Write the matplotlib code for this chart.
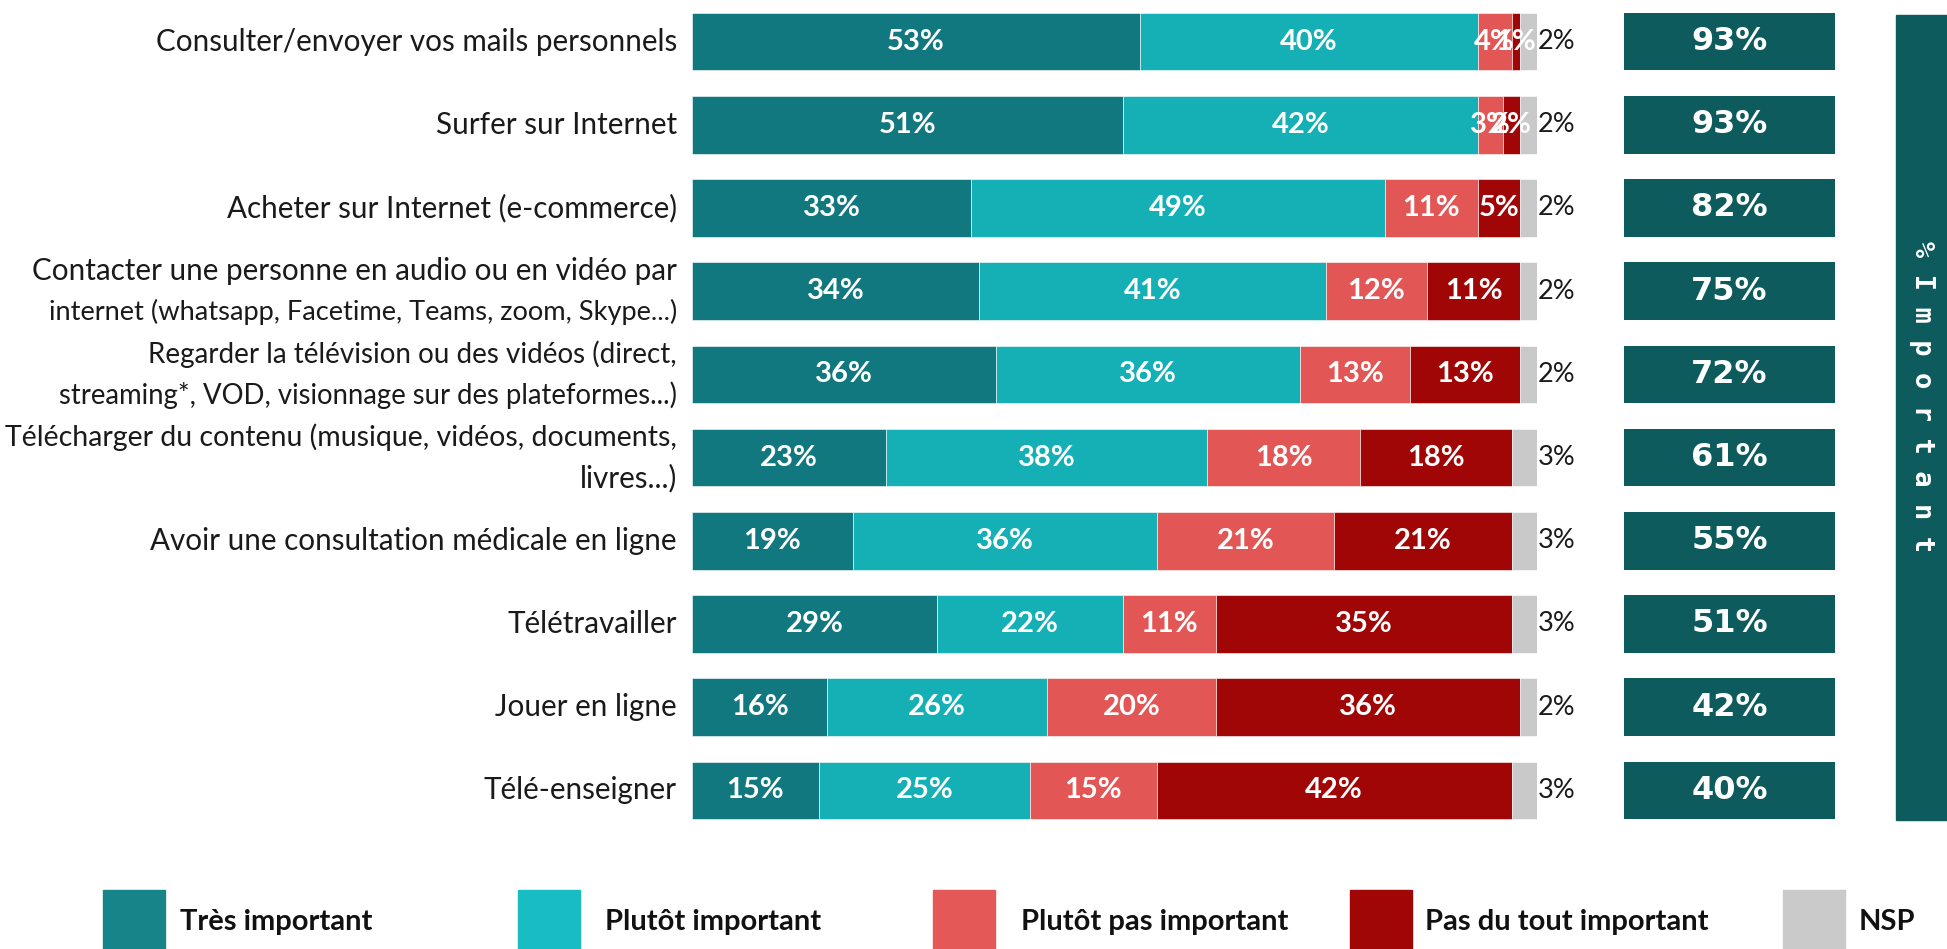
import numpy as np
import matplotlib
matplotlib.use("Agg")
import matplotlib.pyplot as plt
from matplotlib.patches import Rectangle

# ---- data ----
categories = [
    "Consulter/envoyer vos mails personnels",
    "Surfer sur Internet",
    "Acheter sur Internet (e-commerce)",
    "Contacter une personne en audio ou en vidéo par\ninternet (whatsapp, Facetime, Teams, zoom, Skype...)",
    "Regarder la télévision ou des vidéos (direct,\nstreaming*, VOD, visionnage sur des plateformes...)",
    "Télécharger du contenu (musique, vidéos, documents,\nlivres...)",
    "Avoir une consultation médicale en ligne",
    "Télétravailler",
    "Jouer en ligne",
    "Télé-enseigner",
]
tres_important = [53, 51, 33, 34, 36, 23, 19, 29, 16, 15]
plutot_important = [40, 42, 49, 41, 36, 38, 36, 22, 26, 25]
plutot_pas = [4, 3, 11, 12, 13, 18, 21, 11, 20, 15]
pas_du_tout = [1, 2, 5, 11, 13, 18, 21, 35, 36, 42]
nsp = [2, 2, 2, 2, 2, 3, 3, 3, 2, 3]

series_names = ["Très important", "Plutôt important", "Plutôt pas important",
                "Pas du tout important", "NSP"]
series = [tres_important, plutot_important, plutot_pas, pas_du_tout, nsp]
colors = ["#117880", "#14b0b6", "#e35656", "#a00606", "#c9c9c9"]
legend_colors = ["#178489", "#18bcc3", "#e45858", "#a00606", "#cacaca"]
box_color = "#0d5b5c"

# font size of each label line (long two-line labels are set a bit smaller)
line_sizes = {3: [21.3, 19.6], 4: [20.0, 19.8], 5: [20.5, 21.3]}

n = len(categories)
y = np.arange(n)
pct_important = np.array(tres_important) + np.array(plutot_important)

W, H = 1947, 949
fig = plt.figure(figsize=(W / 100, H / 100), dpi=100)

# ---- main stacked bars ----
ax = fig.add_axes([692 / W, 1 - 832 / H, 845 / W, 832 / H])
left = np.zeros(n)
for k, (vals, col) in enumerate(zip(series, colors)):
    vals = np.array(vals, dtype=float)
    ax.barh(y, vals, left=left, height=0.69, color=col, edgecolor="white", linewidth=0.4)
    if k < 4:
        for i in range(n):
            ax.text(left[i] + vals[i] / 2, y[i], f"{int(vals[i])}%", ha="center", va="center",
                    color="white", fontsize=21, fontweight="bold", family="Lato")
    else:
        for i in range(n):
            ax.text(100.05, y[i], f"{int(vals[i])}%", ha="left", va="center",
                    color="#1a1a1a", fontsize=19.5, family="Lato")
    left += vals

ax.set_xlim(0, 100)
ax.set_ylim(n - 0.5, -0.5)
ax.set_xticks([])
ax.set_yticks([])
for s in ax.spines.values():
    s.set_visible(False)

# category labels, right aligned left of the bars
for i, cat in enumerate(categories):
    lines = cat.split("\n")
    sizes = line_sizes.get(i, [21.3] * len(lines))
    offs = [0.0] if len(lines) == 1 else [-0.245, 0.245]
    for line, fs, off in zip(lines, sizes, offs):
        ax.text(-1.8, y[i] + off, line, ha="right", va="center", fontsize=fs,
                family="Lato", color="#1a1a1a")

# ---- % important boxes ----
ax2 = fig.add_axes([1624 / W, 1 - 832 / H, 211 / W, 832 / H])
ax2.barh(y, np.ones(n), height=0.69, color=box_color)
for i in range(n):
    ax2.text(0.5, y[i], f"{pct_important[i]}%", ha="center", va="center", color="white",
             fontsize=23, fontweight="bold", family="DejaVu Sans")
ax2.set_xlim(0, 1)
ax2.set_ylim(n - 0.5, -0.5)
ax2.axis("off")

# ---- tall side box ----
fig.patches.append(Rectangle((1896 / W, 1 - 820 / H), 60 / W, 805 / H,
                             transform=fig.transFigure, color=box_color, zorder=0))
fig.text(1922 / W, 1 - 397 / H, "% I m p o r t a n t", rotation=270,
         ha="center", va="center", color="white", fontsize=19.5, fontweight="bold",
         family="DejaVu Sans Mono")

# ---- legend ----
swatch_x = [103, 518, 933, 1350, 1783]
label_x = [180, 605, 1021, 1425, 1859]
for name, col, sx, tx in zip(series_names, legend_colors, swatch_x, label_x):
    fig.patches.append(Rectangle((sx / W, 0), 62 / W, 59 / H,
                                 transform=fig.transFigure, color=col))
    fig.text(tx / W, 1 - 922 / H, name, ha="left", va="center",
             fontsize=21, fontweight="bold", family="Lato", color="#111111")

fig.savefig("out.png", dpi=100, facecolor="white")
